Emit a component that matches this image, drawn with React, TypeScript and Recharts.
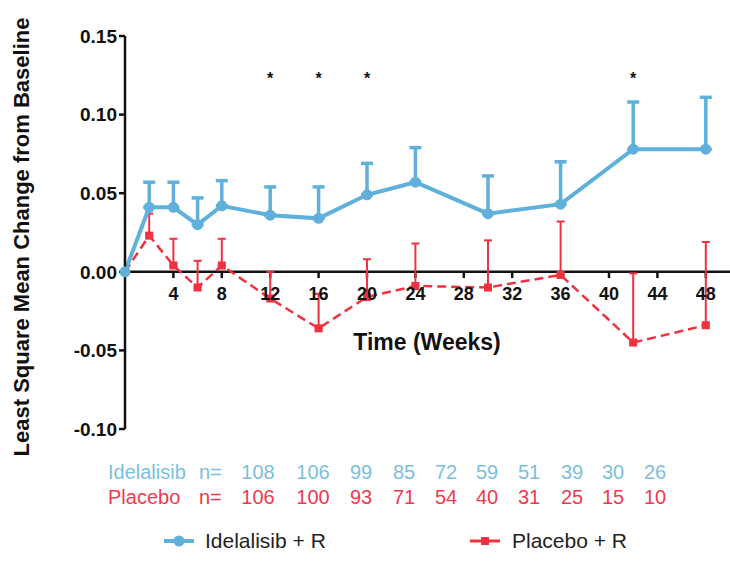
import React from "react";
import {
    ComposedChart, Line, Scatter, XAxis, YAxis, ErrorBar,
    ReferenceLine, ReferenceDot
} from "recharts";

const weeks = [0, 2, 4, 6, 8, 12, 16, 20, 24, 30, 36, 42, 48];
const idelaMean = [0, 0.041, 0.041, 0.030, 0.042, 0.036, 0.034, 0.049, 0.057, 0.037, 0.043, 0.078, 0.078];
const idelaUpper = [null, 0.057, 0.057, 0.047, 0.058, 0.054, 0.054, 0.069, 0.079, 0.061, 0.070, 0.108, 0.111];
const placeboMean = [0, 0.023, 0.004, -0.010, 0.004, -0.017, -0.036, -0.016, -0.009, -0.010, -0.002, -0.045, -0.034];
const placeboUpper = [null, 0.037, 0.021, 0.007, 0.021, 0.000, -0.014, 0.008, 0.018, 0.020, 0.032, -0.001, 0.019];

const xTicks = [4, 8, 12, 16, 20, 24, 28, 32, 36, 40, 44, 48];
const yTicks = [-0.1, -0.05, 0, 0.05, 0.1, 0.15];

// weeks with significant difference (asterisks)
const sigWeeks = [12, 16, 20, 42];
const sigLevel = 0.125;

const idelaN = [108, 106, 99, 85, 72, 59, 51, 39, 30, 26];
const placeboN = [106, 100, 93, 71, 54, 40, 31, 25, 15, 10];
const nColumnsX = [258, 313, 361, 404, 446, 487, 529, 572, 613, 655];

const BLUE = "#5fb1db";
const RED = "#f0313f";
const FONT = "'Liberation Sans', Arial, sans-serif";

const data = weeks.map((w, i) => ({
    week: w,
    idela: idelaMean[i],
    idelaErr: idelaUpper[i] == null ? null : [0, idelaUpper[i] - idelaMean[i]],
    placebo: placeboMean[i],
    placeboErr: placeboUpper[i] == null ? null : [0, placeboUpper[i] - placeboMean[i]],
}));

const sigData = sigWeeks.map((w) => ({ week: w, star: sigLevel }));

const BlueDot = (props: any) => {
    const { cx, cy } = props;
    if (cx == null || cy == null) return null;
    return <circle cx={cx} cy={cy} r={5.5} fill={BLUE} />;
};

const RedDot = (props: any) => {
    const { cx, cy } = props;
    if (cx == null || cy == null) return null;
    return <rect x={cx - 4} y={cy - 4} width={8} height={8} fill={RED} />;
};

const Star = (props: any) => {
    const { cx, cy } = props;
    return (
        <text x={cx} y={cy + 9} textAnchor="middle" fontSize={16} fontWeight="bold" fontFamily={FONT} fill="#111">*</text>
    );
};

export default function App() {
    return (
        <div style={{ position: "absolute", left: 0, top: 0, width: 730, height: 572, background: "#fff", fontFamily: FONT }}>
            <ComposedChart width={730} height={440} data={data} margin={{ top: 36, right: 0, bottom: 11, left: 0 }}>
                <XAxis type="number" dataKey="week" domain={[0, 50]} hide />
                <YAxis
                    width={125}
                    domain={[-0.1, 0.15]}
                    ticks={yTicks}
                    tickFormatter={(v: number) => v.toFixed(2)}
                    axisLine={{ stroke: "#111", strokeWidth: 2.5 }}
                    tickLine={{ stroke: "#111", strokeWidth: 2.5 }}
                    tickSize={6}
                    tick={{ fontSize: 19, fontWeight: "bold", fill: "#111", fontFamily: FONT }}
                    allowDataOverflow
                />
                <ReferenceLine y={0} stroke="#111" strokeWidth={2.5} />
                {xTicks.map((t) => (
                    <ReferenceLine key={"t" + t} segment={[{ x: t, y: 0 }, { x: t, y: -0.004 }]} stroke="#111" strokeWidth={2.5} />
                ))}
                {xTicks.map((t) => (
                    <ReferenceDot
                        key={"l" + t}
                        x={t}
                        y={0}
                        r={0}
                        stroke="none"
                        label={{ value: String(t), position: "bottom", offset: 15, fontSize: 18, fontWeight: "bold", fill: "#111", fontFamily: FONT }}
                    />
                ))}
                <Line
                    dataKey="placebo"
                    stroke={RED}
                    strokeWidth={2.5}
                    strokeDasharray="9 5"
                    dot={<RedDot />}
                    activeDot={false}
                    isAnimationActive={false}
                >
                    <ErrorBar dataKey="placeboErr" direction="y" width={4} stroke={RED} strokeWidth={2} />
                </Line>
                <Line
                    dataKey="idela"
                    stroke={BLUE}
                    strokeWidth={4}
                    dot={<BlueDot />}
                    activeDot={false}
                    isAnimationActive={false}
                >
                    <ErrorBar dataKey="idelaErr" direction="y" width={6} stroke={BLUE} strokeWidth={3.5} />
                </Line>
                <Scatter data={sigData} dataKey="star" shape={<Star />} isAnimationActive={false} />
            </ComposedChart>

            {/* axis titles */}
            <div style={{
                position: "absolute", left: 22, top: 237, transform: "translate(-50%, -50%) rotate(-90deg)",
                whiteSpace: "nowrap", fontSize: 22, fontWeight: "bold", color: "#111"
            }}>
                Least Square Mean Change from Baseline
            </div>
            <div style={{
                position: "absolute", left: 427, top: 342, transform: "translate(-50%, -50%)",
                whiteSpace: "nowrap", fontSize: 23, fontWeight: "bold", color: "#111"
            }}>
                Time (Weeks)
            </div>

            {/* n at risk */}
            <div style={{ position: "absolute", left: 108, top: 461, fontSize: 20, lineHeight: "22px", color: "#7bbfdc", whiteSpace: "nowrap" }}>Idelalisib</div>
            <div style={{ position: "absolute", left: 199, top: 461, fontSize: 20, lineHeight: "22px", color: "#7bbfdc" }}>n=</div>
            {idelaN.map((n, i) => (
                <div key={"in" + i} style={{ position: "absolute", left: nColumnsX[i], top: 461, transform: "translateX(-50%)", fontSize: 20, lineHeight: "22px", color: "#7bbfdc" }}>{n}</div>
            ))}
            <div style={{ position: "absolute", left: 108, top: 486, fontSize: 20, lineHeight: "22px", color: "#ee3a4e", whiteSpace: "nowrap" }}>Placebo</div>
            <div style={{ position: "absolute", left: 199, top: 486, fontSize: 20, lineHeight: "22px", color: "#ee3a4e" }}>n=</div>
            {placeboN.map((n, i) => (
                <div key={"pn" + i} style={{ position: "absolute", left: nColumnsX[i], top: 486, transform: "translateX(-50%)", fontSize: 20, lineHeight: "22px", color: "#ee3a4e" }}>{n}</div>
            ))}

            {/* legend */}
            <svg style={{ position: "absolute", left: 162, top: 532 }} width={34} height={18}>
                <line x1={2} y1={9} x2={32} y2={9} stroke={BLUE} strokeWidth={4} />
                <circle cx={17} cy={9} r={5.5} fill={BLUE} />
            </svg>
            <div style={{ position: "absolute", left: 205, top: 529, fontSize: 21, lineHeight: "24px", color: "#222", whiteSpace: "nowrap" }}>Idelalisib + R</div>
            <svg style={{ position: "absolute", left: 468, top: 532 }} width={34} height={18}>
                <line x1={2} y1={9} x2={32} y2={9} stroke={RED} strokeWidth={3} />
                <rect x={13} y={5} width={8} height={8} fill={RED} />
            </svg>
            <div style={{ position: "absolute", left: 512, top: 529, fontSize: 21, lineHeight: "24px", color: "#222", whiteSpace: "nowrap" }}>Placebo + R</div>
        </div>
    );
}
